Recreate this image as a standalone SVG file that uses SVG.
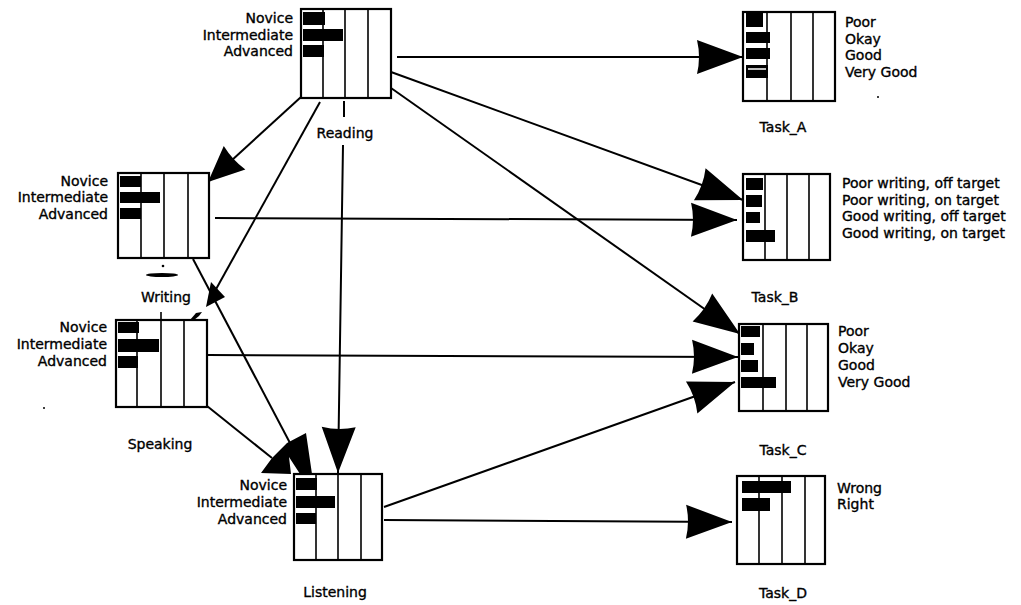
<svg xmlns="http://www.w3.org/2000/svg" width="1021" height="605" viewBox="0 0 1021 605">
  <defs>
    <style>
      .box { fill: #fff; stroke: #000; stroke-width: 2.2; }
      .grid { stroke: #000; stroke-width: 1.6; }
      .bar { fill: #000; }
      .lbl { font-family: "DejaVu Sans", "Liberation Sans", sans-serif; font-size: 14px; fill: #000; stroke: #000; stroke-width: 0.35; }
      .r { text-anchor: end; }
      .c { text-anchor: middle; }
      .edge { stroke: #000; stroke-width: 2; fill: none; }
      .head { fill: #000; }
    </style>
    <marker id="ah" markerUnits="userSpaceOnUse" markerWidth="48" markerHeight="36" refX="46" refY="17" orient="auto" overflow="visible">
      <path d="M0,0 L46,17 L0,34 Q4,17 0,0 Z" fill="#000"/>
    </marker>
    <marker id="ahs" markerUnits="userSpaceOnUse" markerWidth="38" markerHeight="34" refX="36" refY="16" orient="auto" overflow="visible">
      <path d="M0,0 L36,16 L0,32 Q3,16 0,0 Z" fill="#000"/>
    </marker>
  </defs>

  <rect width="1021" height="605" fill="#fff"/>

  <!-- connectors -->
  <g id="connectors">
    <line class="edge" x1="301" y1="97" x2="208" y2="182" marker-end="url(#ahs)"/>
    <line class="edge" x1="320" y1="102" x2="215" y2="291"/>
    <polygon class="head" points="211,282 225,297 206,307"/>
    <path class="edge" d="M344,101 L344,117 M343,145 L338,473" marker-end="url(#ah)"/>
    <line class="edge" x1="397" y1="57" x2="743" y2="57" marker-end="url(#ah)"/>
    <line class="edge" x1="391" y1="72" x2="743" y2="200" marker-end="url(#ah)"/>
    <line class="edge" x1="391" y1="88" x2="740" y2="334" marker-end="url(#ah)"/>
    <line class="edge" x1="215" y1="218" x2="737" y2="220" marker-end="url(#ah)"/>
    <line class="edge" x1="193" y1="259" x2="290" y2="443"/>
    <line class="edge" x1="207" y1="406" x2="272" y2="458"/>
    <polygon class="head" points="261,473 272,458 287,443 306,433 312,474 300,474 289,457 291,474"/>
    <line class="edge" x1="208" y1="355" x2="738" y2="357" marker-end="url(#ah)"/>
    <line class="edge" x1="384" y1="507" x2="735" y2="382" marker-end="url(#ah)"/>
    <line class="edge" x1="384" y1="520" x2="732" y2="522" marker-end="url(#ah)"/>
  </g>

  <!-- Reading -->
  <g id="reading">
    <rect class="box" x="301" y="9" width="90" height="89"/>
    <line class="grid" x1="323" y1="9" x2="323" y2="98"/>
    <line class="grid" x1="345" y1="9" x2="345" y2="98"/>
    <line class="grid" x1="368" y1="9" x2="368" y2="98"/>
    <rect class="bar" x="303" y="12" width="22" height="13"/>
    <rect class="bar" x="303" y="29" width="40" height="12"/>
    <rect class="bar" x="303" y="45" width="21" height="12"/>
    <text class="lbl r" x="293" y="23">Novice</text>
    <text class="lbl r" x="293" y="40">Intermediate</text>
    <text class="lbl r" x="293" y="56">Advanced</text>
    <text class="lbl c" x="345" y="138">Reading</text>
  </g>

  <!-- Writing -->
  <g id="writing">
    <rect class="box" x="118" y="173" width="91" height="85"/>
    <line class="grid" x1="141" y1="173" x2="141" y2="258"/>
    <line class="grid" x1="164" y1="173" x2="164" y2="258"/>
    <line class="grid" x1="188" y1="173" x2="188" y2="258"/>
    <rect class="bar" x="120" y="176" width="21" height="11"/>
    <rect class="bar" x="120" y="192" width="40" height="11"/>
    <rect class="bar" x="120" y="208" width="21" height="11"/>
    <text class="lbl r" x="108" y="186">Novice</text>
    <text class="lbl r" x="108" y="202">Intermediate</text>
    <text class="lbl r" x="108" y="219">Advanced</text>
    <circle cx="163" cy="266" r="1.3" fill="#000"/>
    <ellipse cx="162" cy="275" rx="16" ry="2" fill="#000"/>
    <text class="lbl c" x="166" y="302">Writing</text>
  </g>

  <!-- Speaking -->
  <g id="speaking">
    <rect class="box" x="116" y="320" width="91" height="87"/>
    <line class="grid" x1="137" y1="320" x2="137" y2="407"/>
    <line class="grid" x1="161" y1="312" x2="161" y2="407"/>
    <line class="grid" x1="184" y1="320" x2="184" y2="407"/>
    <rect class="bar" x="118" y="322" width="21" height="11"/>
    <rect class="bar" x="118" y="339" width="41" height="13"/>
    <rect class="bar" x="118" y="356" width="20" height="12"/>
    <polygon points="190,320 196,313 202,312 199,316 194,320" fill="#000"/>
    <text class="lbl r" x="107" y="332">Novice</text>
    <text class="lbl r" x="107" y="349">Intermediate</text>
    <text class="lbl r" x="107" y="366">Advanced</text>
    <text class="lbl c" x="160" y="449">Speaking</text>
  </g>

  <!-- Listening -->
  <g id="listening">
    <rect class="box" x="294" y="474" width="88" height="86"/>
    <line class="grid" x1="316" y1="474" x2="316" y2="560"/>
    <line class="grid" x1="338" y1="474" x2="338" y2="560"/>
    <line class="grid" x1="361" y1="474" x2="361" y2="560"/>
    <rect class="bar" x="296" y="478" width="21" height="12"/>
    <rect class="bar" x="296" y="496" width="39" height="12"/>
    <rect class="bar" x="296" y="513" width="20" height="11"/>
    <text class="lbl r" x="287" y="490">Novice</text>
    <text class="lbl r" x="287" y="507">Intermediate</text>
    <text class="lbl r" x="287" y="524">Advanced</text>
    <text class="lbl c" x="335" y="597">Listening</text>
  </g>

  <!-- Task_A -->
  <g id="task_a">
    <rect class="box" x="743" y="12" width="92" height="89"/>
    <line class="grid" x1="767" y1="12" x2="767" y2="101"/>
    <line class="grid" x1="791" y1="12" x2="791" y2="101"/>
    <line class="grid" x1="813" y1="12" x2="813" y2="101"/>
    <rect class="bar" x="746" y="13" width="17" height="14"/>
    <rect class="bar" x="746" y="32" width="24" height="11"/>
    <rect class="bar" x="746" y="48" width="24" height="11"/>
    <rect class="bar" x="746" y="65" width="22" height="13"/>
    <line x1="748" y1="69" x2="766" y2="69" stroke="#fff" stroke-width="1.5"/>
    <text class="lbl" x="845" y="27">Poor</text>
    <text class="lbl" x="845" y="44">Okay</text>
    <text class="lbl" x="845" y="60">Good</text>
    <text class="lbl" x="845" y="77">Very Good</text>
    <circle cx="878" cy="97" r="1" fill="#000"/>
    <text class="lbl c" x="783" y="132">Task_A</text>
  </g>

  <!-- Task_B -->
  <g id="task_b">
    <rect class="box" x="743" y="174" width="87" height="86"/>
    <line class="grid" x1="765" y1="174" x2="765" y2="260"/>
    <line class="grid" x1="787" y1="174" x2="787" y2="260"/>
    <line class="grid" x1="809" y1="174" x2="809" y2="260"/>
    <rect class="bar" x="746" y="178" width="17" height="12"/>
    <rect class="bar" x="746" y="195" width="16" height="12"/>
    <rect class="bar" x="746" y="212" width="14" height="11"/>
    <rect class="bar" x="746" y="230" width="29" height="12"/>
    <text class="lbl" x="842" y="188">Poor writing, off target</text>
    <text class="lbl" x="842" y="205">Poor writing, on target</text>
    <text class="lbl" x="842" y="221">Good writing, off target</text>
    <text class="lbl" x="842" y="238">Good writing, on target</text>
    <text class="lbl c" x="775" y="302">Task_B</text>
  </g>

  <!-- Task_C -->
  <g id="task_c">
    <rect class="box" x="739" y="324" width="89" height="87"/>
    <line class="grid" x1="763" y1="324" x2="763" y2="411"/>
    <line class="grid" x1="786" y1="324" x2="786" y2="411"/>
    <line class="grid" x1="807" y1="324" x2="807" y2="411"/>
    <rect class="bar" x="741" y="326" width="19" height="11"/>
    <rect class="bar" x="741" y="343" width="13" height="12"/>
    <rect class="bar" x="741" y="360" width="17" height="12"/>
    <rect class="bar" x="741" y="377" width="35" height="11"/>
    <text class="lbl" x="838" y="336">Poor</text>
    <text class="lbl" x="838" y="353">Okay</text>
    <text class="lbl" x="838" y="370">Good</text>
    <text class="lbl" x="838" y="387">Very Good</text>
    <text class="lbl c" x="783" y="455">Task_C</text>
  </g>

  <!-- Task_D -->
  <g id="task_d">
    <rect class="box" x="737" y="476" width="88" height="88"/>
    <line class="grid" x1="759" y1="476" x2="759" y2="564"/>
    <line class="grid" x1="782" y1="476" x2="782" y2="564"/>
    <line class="grid" x1="805" y1="476" x2="805" y2="564"/>
    <rect class="bar" x="742" y="481" width="49" height="12"/>
    <rect class="bar" x="742" y="498" width="28" height="13"/>
    <text class="lbl" x="837" y="493">Wrong</text>
    <text class="lbl" x="837" y="509">Right</text>
    <text class="lbl c" x="783" y="598">Task_D</text>
  </g>

  <circle cx="44" cy="408" r="1" fill="#000"/>
</svg>
